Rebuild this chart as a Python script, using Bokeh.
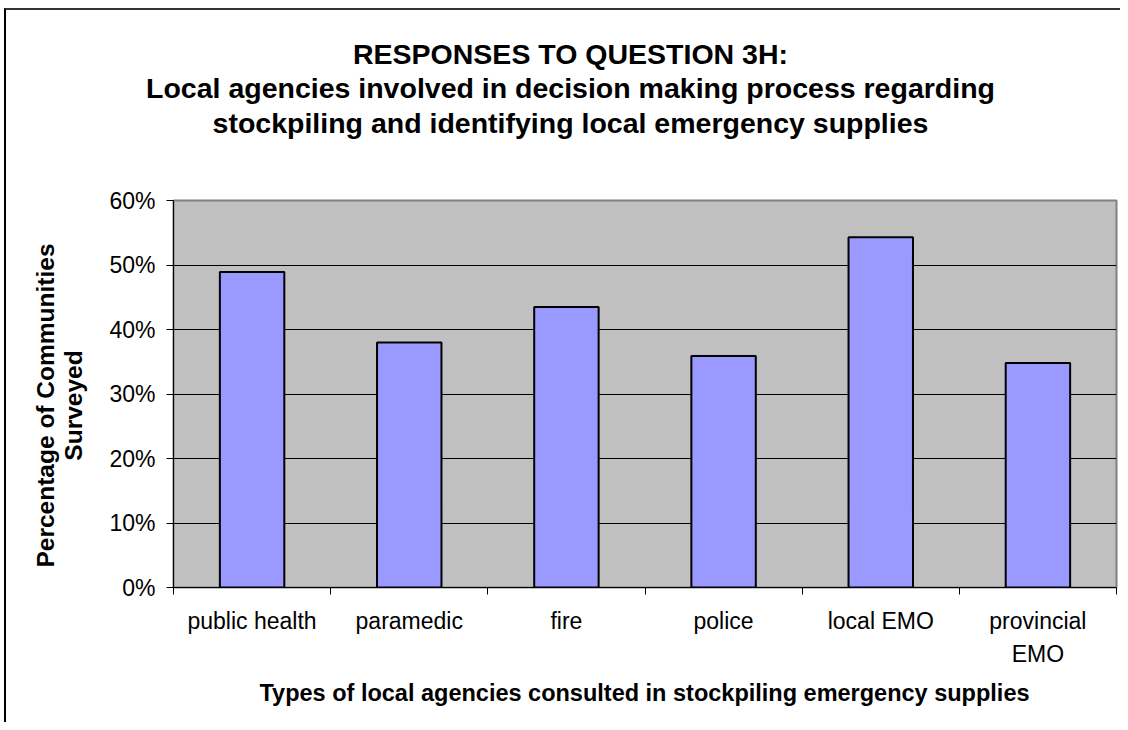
import numpy as np
from bokeh.plotting import figure
from bokeh.models import Label, FixedTicker, Range1d, PrintfTickFormatter, InlineStyleSheet
from bokeh.embed import file_html
from bokeh.resources import INLINE

categories = ["public health", "paramedic", "fire", "police", "local EMO", "provincial\nEMO"]
percent_values = [48.9, 38.0, 43.5, 35.9, 54.3, 34.8]
y_ticks = [0, 10, 20, 30, 40, 50, 60]
title_text = ("RESPONSES TO QUESTION 3H:\n"
              "Local agencies involved in decision making process regarding\n"
              "stockpiling and identifying local emergency supplies")
x_title = "Types of local agencies consulted in stockpiling emergency supplies"
y_title = "Percentage of Communities\nSurveyed"

FONT = "Liberation Sans"

n = len(categories)
centers = [i + 0.5 for i in range(n)]
bounds = list(range(n + 1))

p = figure(width=1120, height=722, output_backend="svg", toolbar_location=None,
           x_range=Range1d(0, n), y_range=Range1d(0, 60),
           min_border_left=173, min_border_right=4, min_border_top=200, min_border_bottom=135)

frame_css = InlineStyleSheet(css="""
:host::after {
  content: "";
  position: absolute;
  left: 4px; top: 8px; right: 0; bottom: 0;
  border-left: 2px solid #000000;
  border-top: 2px solid #333333;
  pointer-events: none;
  z-index: 100;
}
""")
p.stylesheets = [frame_css]

p.background_fill_color = "#C0C0C0"
p.border_fill_color = "white"
p.outline_line_color = "#808080"
p.outline_line_width = 2

p.vbar(x=centers, top=percent_values, width=0.41, bottom=0,
       fill_color="#9999FF", line_color="black", line_width=2)

# x axis
p.xaxis.ticker = FixedTicker(ticks=centers, minor_ticks=bounds)
p.xaxis.major_label_overrides = {c: lab for c, lab in zip(centers, categories)}
p.xaxis.major_tick_line_color = None
p.xaxis.major_tick_out = 0
p.xaxis.major_tick_in = 0
p.xaxis.minor_tick_line_color = "black"
p.xaxis.minor_tick_out = 7
p.xaxis.minor_tick_in = 0
p.xaxis.major_label_standoff = 13
p.xaxis.major_label_text_font = FONT
p.xaxis.major_label_text_font_size = "23px"
p.xaxis.major_label_text_line_height = 1.3
p.xaxis.major_label_text_color = "black"
p.xaxis.axis_line_color = "black"

# y axis
p.yaxis.ticker = FixedTicker(ticks=y_ticks)
p.yaxis.formatter = PrintfTickFormatter(format="%d%%")
p.yaxis.major_tick_out = 7
p.yaxis.major_tick_in = 0
p.yaxis.minor_tick_line_color = None
p.yaxis.major_label_standoff = 11
p.yaxis.major_label_text_font = FONT
p.yaxis.major_label_text_font_size = "23px"
p.yaxis.major_label_text_color = "black"
p.yaxis.axis_line_color = "black"

p.xgrid.grid_line_color = None
p.ygrid.grid_line_color = "black"
p.ygrid.grid_line_width = 1

p.add_layout(Label(x=397, y=112, x_units="screen", y_units="screen", text=title_text,
                   text_align="center", text_baseline="middle", text_line_height=1.08,
                   text_font=FONT, text_font_style="bold", text_font_size="28.5px",
                   text_color="black"), "above")

p.add_layout(Label(x=471, y=4, x_units="screen", y_units="screen", text=x_title,
                   text_align="center", text_baseline="middle",
                   text_font=FONT, text_font_style="bold", text_font_size="23.5px",
                   text_color="black"), "below")

p.add_layout(Label(x=8, y=182, x_units="screen", y_units="screen", text=y_title,
                   angle=np.pi / 2, text_align="center", text_baseline="middle",
                   text_line_height=1.02,
                   text_font=FONT, text_font_style="bold", text_font_size="24.5px",
                   text_color="black"), "left")

open("out.html", "w").write(file_html(p, INLINE))
